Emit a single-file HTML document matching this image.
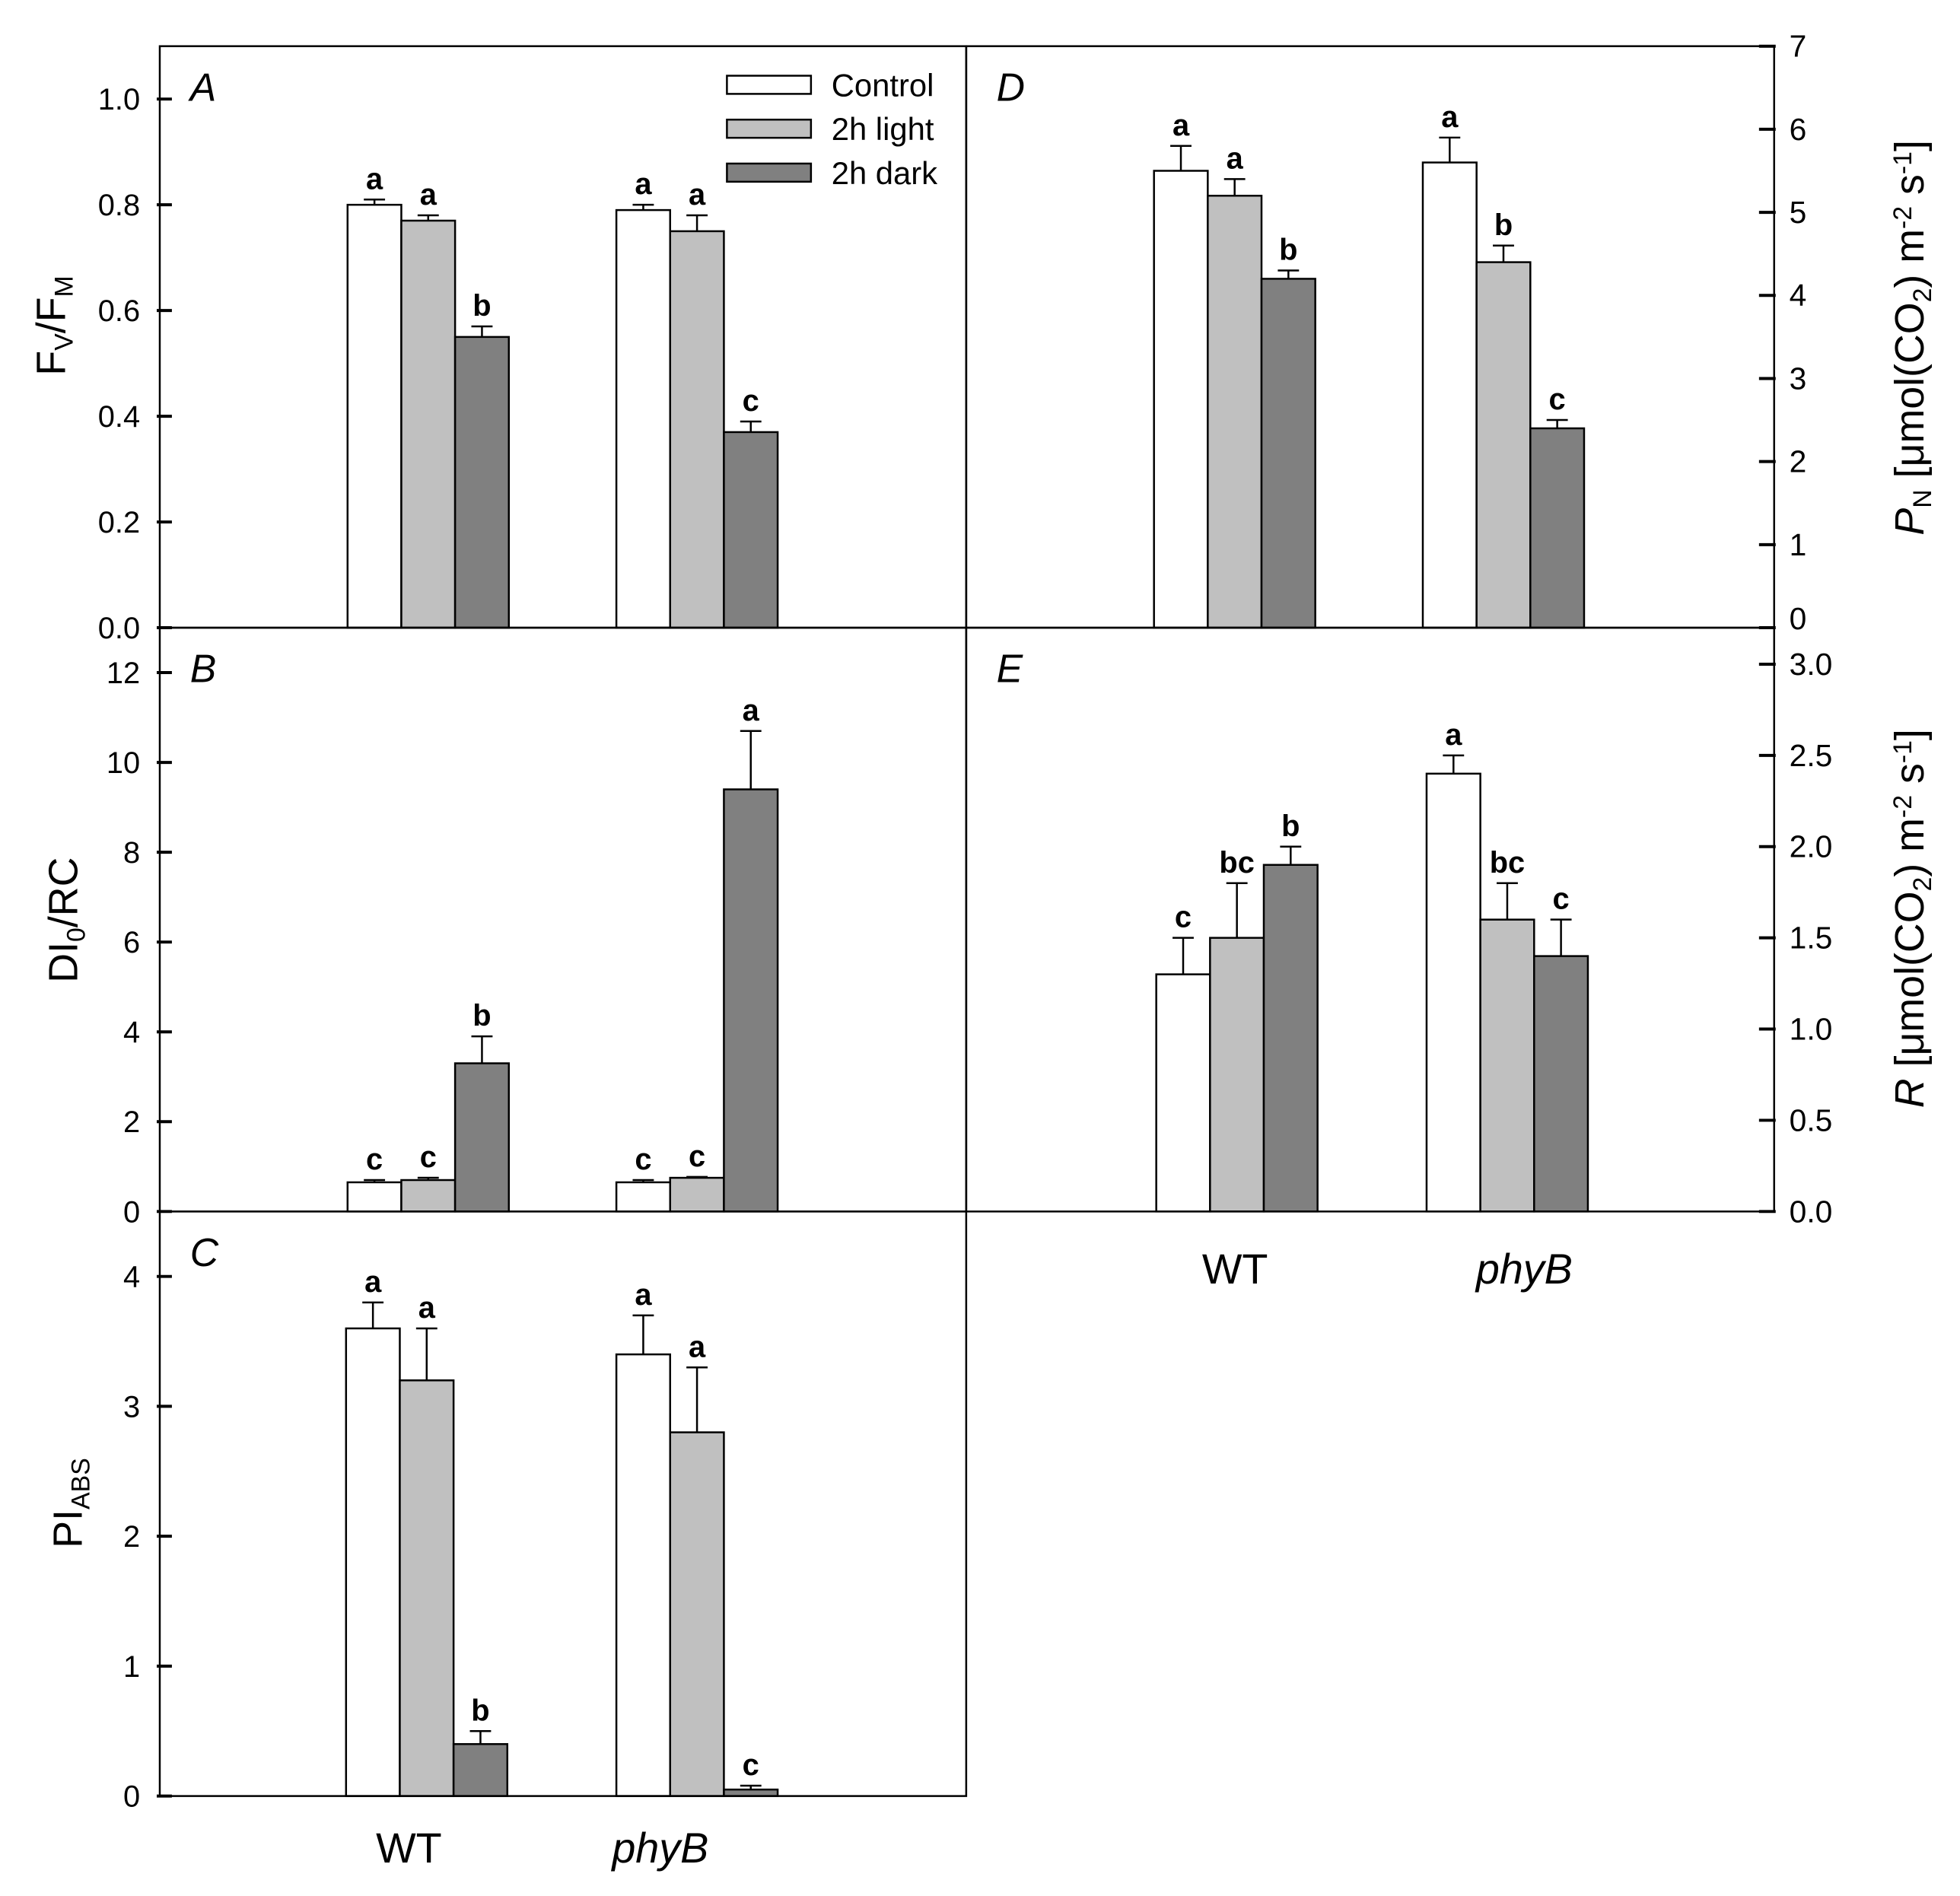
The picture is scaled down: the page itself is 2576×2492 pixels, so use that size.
<!DOCTYPE html>
<html><head><meta charset="utf-8"><style>
body{margin:0;background:#fff}
svg{display:block;font-family:"Liberation Sans",Arial,sans-serif}
</style></head><body>
<svg width="2576" height="2492" viewBox="0 0 2576 2492"><g id="c" transform="scale(0.9952)"></g></svg>
<script>
const groups = ["WT","phyB"];
const seriesNames = ["Control","2h light","2h dark"];
const fills = ["#ffffff","#c0c0c0","#808080"];
const valsA = [[0.80,0.77,0.55],[0.79,0.75,0.37]];
const errA = [[0.01,0.01,0.02],[0.01,0.03,0.02]];
const letA = [["a","a","b"],["a","a","c"]];
const valsB = [[0.65,0.7,3.3],[0.65,0.75,9.4]];
const errB = [[0.05,0.05,0.6],[0.05,0.02,1.3]];
const letB = [["c","c","b"],["c","c","a"]];
const valsC = [[3.6,3.2,0.4],[3.4,2.8,0.05]];
const errC = [[0.2,0.4,0.1],[0.3,0.5,0.03]];
const letC = [["a","a","b"],["a","a","c"]];
const valsD = [[5.5,5.2,4.2],[5.6,4.4,2.4]];
const errD = [[0.3,0.2,0.1],[0.3,0.2,0.1]];
const letD = [["a","a","b"],["a","b","c"]];
const valsE = [[1.3,1.5,1.9],[2.4,1.6,1.4]];
const errE = [[0.2,0.3,0.1],[0.1,0.2,0.2]];
const letE = [["c","bc","b"],["a","bc","c"]];
const ticksA = ["0.0","0.2","0.4","0.6","0.8","1.0"];
const ticksB = ["0","2","4","6","8","10","12"];
const ticksC = ["0","1","2","3","4"];
const ticksD = ["0","1","2","3","4","5","6","7"];
const ticksE = ["0.0","0.5","1.0","1.5","2.0","2.5","3.0"];

const NS="http://www.w3.org/2000/svg";
const svg=document.getElementById('c');
function mk(tag,attrs,parent,name,inter){const e=document.createElementNS(NS,tag);for(const k in attrs)e.setAttribute(k,attrs[k]);


(parent||svg).appendChild(e);return e;}

function panel(p){
  const g=mk('g',{},svg,'panel-'+p.id,false);
  const y=v=>p.y1-(v/p.ymax)*(p.y1-p.y0);
  p.ticks.forEach(t=>{
    const v=parseFloat(t),yy=y(v);
    if(p.side==='left'){
      mk('line',{x1:p.x0-4,x2:p.x0+16,y1:yy,y2:yy,stroke:'#000','stroke-width':4},g,'y-tick',false);
      const tx=mk('text',{x:p.x0-26,y:yy+14,'font-size':40,'text-anchor':'end'},g,'y-tick-label',false);tx.textContent=t;
    } else {
      mk('line',{x1:p.x1-20,x2:p.x1+2,y1:yy,y2:yy,stroke:'#000','stroke-width':4},g,'y-tick',false);
      const tx=mk('text',{x:p.x1+20,y:yy+14+(p.tOff||0)*(v===0?1:0),'font-size':41,'text-anchor':'start'},g,'y-tick-label',false);tx.textContent=t;
    }
  });
  const bw=71;
  p.vals.forEach((gv,gi)=>gv.forEach((v,si)=>{
    const bx=p.gx[gi]+si*bw, top=y(v), et=y(v+p.err[gi][si]);
    mk('rect',{x:bx,y:top,width:bw,height:p.y1-top,fill:fills[si],stroke:'#000','stroke-width':2.5},g,'bar-'+groups[gi]+'-'+si,false);
    mk('line',{x1:bx+bw/2,x2:bx+bw/2,y1:top,y2:et,stroke:'#000','stroke-width':2.5},g,'error-bar',false);
    mk('line',{x1:bx+bw/2-14,x2:bx+bw/2+14,y1:et,y2:et,stroke:'#000','stroke-width':2.5},g,'error-cap',false);
    const lt=mk('text',{x:bx+bw/2,y:et-14,'font-size':40,'font-weight':'bold','text-anchor':'middle'},g,'significance-letter',false);lt.textContent=p.lets[gi][si];
  }));
  mk('rect',{x:p.x0,y:p.y0,width:p.x1-p.x0,height:p.y1-p.y0,fill:'none',stroke:'#000','stroke-width':2.5},g,'plot-frame',false);
  const pl=mk('text',{x:p.x0+40,y:p.y0+72,'font-size':52,'font-style':'italic'},g,'panel-label',false);pl.textContent=p.id;
  return g;
}
panel({id:'A',x0:211,x1:1276,y0:61,y1:829,ymax:1.1,ticks:ticksA,vals:valsA,err:errA,lets:letA,gx:[459,814],side:'left'});
panel({id:'B',x0:211,x1:1276,y0:829,y1:1600,ymax:13,ticks:ticksB,vals:valsB,err:errB,lets:letB,gx:[459,814],side:'left'});
panel({id:'C',x0:211,x1:1276,y0:1600,y1:2372,ymax:4.5,ticks:ticksC,vals:valsC,err:errC,lets:letC,gx:[457,814],side:'left'});
panel({id:'D',x0:1276,x1:2343,y0:61,y1:829,ymax:7,ticks:ticksD,vals:valsD,err:errD,lets:letD,gx:[1524,1879],side:'right',tOff:-12});
panel({id:'E',x0:1276,x1:2343,y0:829,y1:1600,ymax:3.2,ticks:ticksE,vals:valsE,err:errE,lets:letE,gx:[1527,1884],side:'right'});

const lg=mk('g',{},svg,'legend',false);
seriesNames.forEach((n,i)=>{
  const cy=112+i*58;
  mk('rect',{x:960,y:cy-12,width:111,height:24,fill:fills[i],stroke:'#000','stroke-width':2.5},lg,'legend-swatch',false);
  const t=mk('text',{x:1098,y:cy+15,'font-size':42},lg,'legend-entry',false);t.textContent=n;
});
function txt(x,y,s,size,name,extra){const t=mk('text',Object.assign({x:x,y:y,'font-size':size,'text-anchor':'middle'},extra||{}),svg,name,false);t.innerHTML=s;return t;}
txt(540,2460,'WT',56,'x-label-wt');
txt(872,2460,'phyB',56,'x-label-phyb',{'font-style':'italic'});
txt(1631,1695,'WT',56,'x-label-wt-right');
txt(2013,1695,'phyB',56,'x-label-phyb-right',{'font-style':'italic'});
txt(0,0,'F<tspan font-size="34" dy="10">V</tspan><tspan dy="-10">/F</tspan><tspan font-size="34" dy="10">M</tspan>',54,'y-axis-title-a',{transform:'translate(86,430) rotate(-90)'});
txt(0,0,'DI<tspan font-size="34" dy="10">0</tspan><tspan dy="-10">/RC</tspan>',54,'y-axis-title-b',{transform:'translate(102,1215) rotate(-90)'});
txt(0,0,'PI<tspan font-size="34" dy="10">ABS</tspan>',54,'y-axis-title-c',{transform:'translate(108,1985) rotate(-90)'});
txt(0,0,'<tspan font-style="italic">P</tspan><tspan font-size="34" dy="10">N</tspan><tspan dy="-10"> [μmol(CO</tspan><tspan font-size="34" dy="10">2</tspan><tspan dy="-10">) m</tspan><tspan font-size="34" dy="-16">-2</tspan><tspan dy="16"> s</tspan><tspan font-size="34" dy="-16">-1</tspan><tspan dy="16">]</tspan>',54,'y-axis-title-d',{transform:'translate(2540,446) rotate(-90)'});
txt(0,0,'<tspan font-style="italic">R</tspan><tspan> [μmol(CO</tspan><tspan font-size="34" dy="10">2</tspan><tspan dy="-10">) m</tspan><tspan font-size="34" dy="-16">-2</tspan><tspan dy="16"> s</tspan><tspan font-size="34" dy="-16">-1</tspan><tspan dy="16">]</tspan>',54,'y-axis-title-e',{transform:'translate(2540,1213) rotate(-90)'});
</script>
</body></html>
